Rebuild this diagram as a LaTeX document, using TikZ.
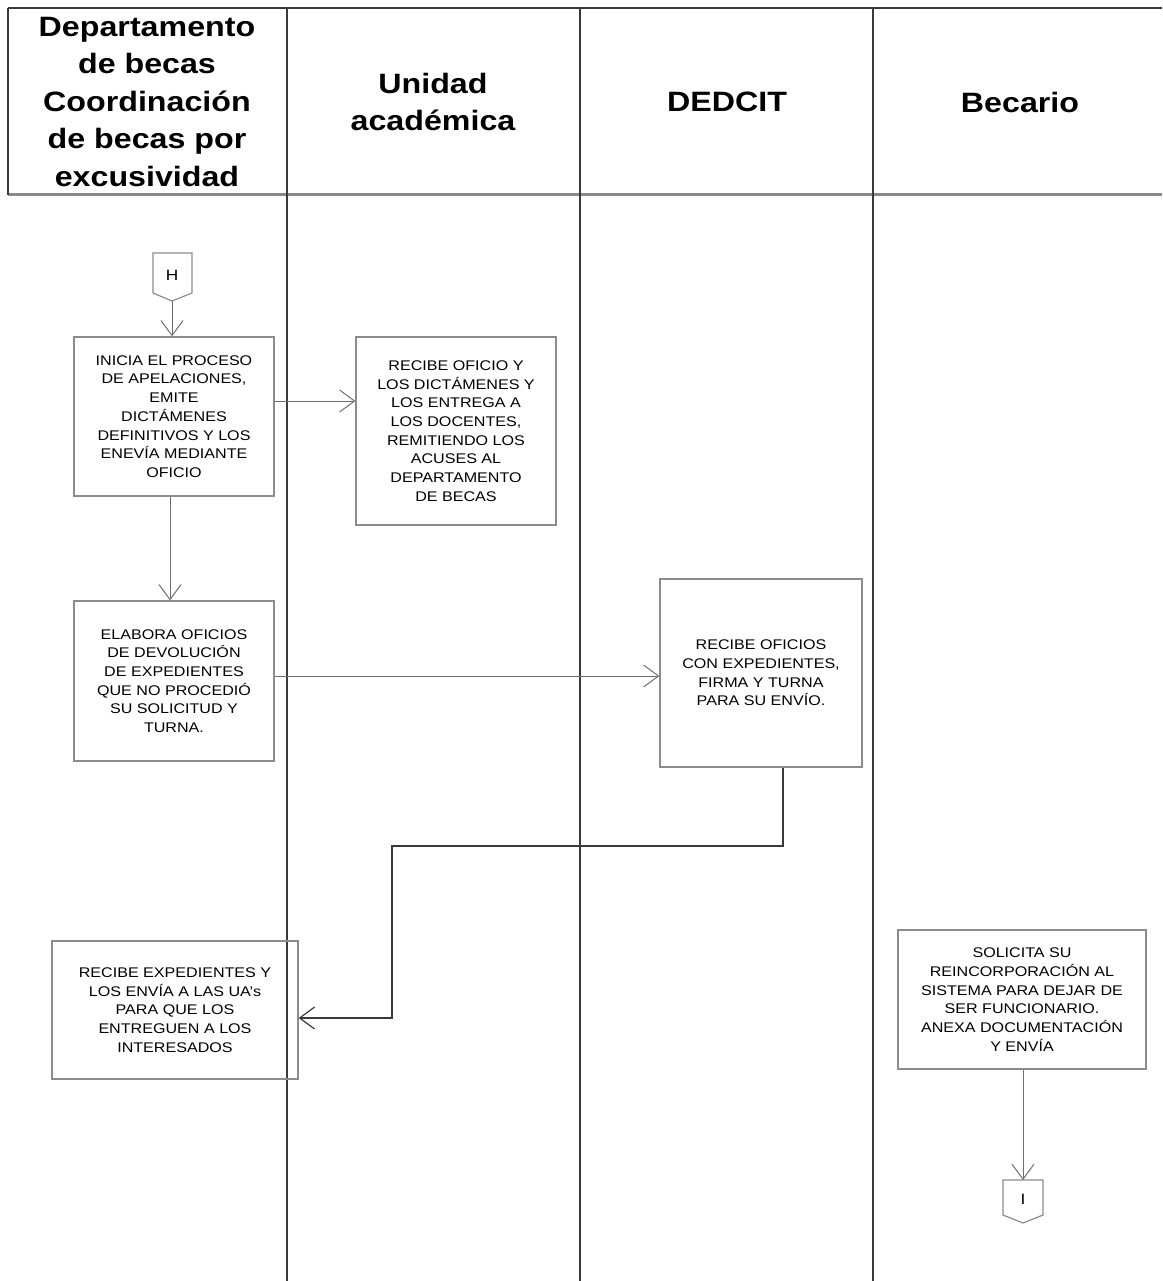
\documentclass[tikz,border=0pt]{standalone}
\usepackage{fontspec}
\setmainfont{Liberation Sans}[FakeStretch=1.15]
\usetikzlibrary{arrows.meta}
\definecolor{lane}{HTML}{3A3A3A}
\definecolor{boxc}{HTML}{8C8C8C}
\definecolor{arr}{HTML}{6E6E6E}
\begin{document}
\begin{tikzpicture}[x=1pt,y=-1pt,
  lanel/.style={draw=lane,line width=1.4pt},
  headtxt/.style={align=center,font=\fontsize{28}{37.5}\selectfont\bfseries},
  stepbox/.style={draw=boxc,line width=1.2pt,align=center,inner sep=0pt,
     font=\fontsize{14}{18.7}\selectfont},
  conn/.style={draw=arr,line width=1pt,-{Straight Barb[length=15pt,width=22pt]}},
  connd/.style={draw=lane,line width=1.2pt,-{Straight Barb[length=15pt,width=22pt]}},
  offp/.style={draw=boxc,line width=1.2pt}]
\useasboundingbox (0,0) rectangle (1162,1281);
% swimlane frame
\draw[lanel] (8,8) -- (1162,8);
\draw[draw=lane!60,line width=3pt] (8,195) -- (1162,195);
\draw[lanel] (8,8) -- (8,195);
\draw[lanel] (287,8) -- (287,1281);
\draw[lanel] (580,8) -- (580,1281);
\draw[lanel] (873,8) -- (873,1281);
% headers
\node[headtxt] (h1) at (147,102) {Departamento\\de becas\\Coordinación\\de becas por\\excusividad};
\node[headtxt] (h2) at (433,102) {Unidad\\académica};
\node[headtxt] (h3) at (727,102) {DEDCIT};
\node[headtxt] (h4) at (1020,102) {Becario};
% off-page connector H
\draw[offp] (153,253) -- (192,253) -- (192,293) -- (172,301) -- (153,293) -- cycle;
\node[font=\fontsize{15}{16}\selectfont] (H) at (172,275) {H};
\coordinate (Hb) at (172,301);
% boxes
\node[stepbox,minimum width=200pt,minimum height=159pt] (b1) at (174,416.5)
 {INICIA EL PROCESO\\DE APELACIONES,\\EMITE\\DICTÁMENES\\DEFINITIVOS Y LOS\\ENEVÍA MEDIANTE\\OFICIO};
\node[stepbox,minimum width=200pt,minimum height=188pt] (b2) at (456,431)
 {RECIBE OFICIO Y\\LOS DICTÁMENES Y\\LOS ENTREGA A\\LOS DOCENTES,\\REMITIENDO LOS\\ACUSES AL\\DEPARTAMENTO\\DE BECAS};
\node[stepbox,minimum width=200pt,minimum height=160pt] (b3) at (174,681)
 {ELABORA OFICIOS\\DE DEVOLUCIÓN\\DE EXPEDIENTES\\QUE NO PROCEDIÓ\\SU SOLICITUD Y\\TURNA.};
\node[stepbox,minimum width=202pt,minimum height=188pt] (b4) at (761,673)
 {RECIBE OFICIOS\\CON EXPEDIENTES,\\FIRMA Y TURNA\\PARA SU ENVÍO.};
\node[stepbox,minimum width=246pt,minimum height=138pt] (b5) at (175,1010)
 {RECIBE EXPEDIENTES Y\\LOS ENVÍA A LAS UA's\\PARA QUE LOS\\ENTREGUEN A LOS\\INTERESADOS};
\node[stepbox,minimum width=248pt,minimum height=139pt] (b6) at (1022,999.5)
 {SOLICITA SU\\REINCORPORACIÓN AL\\SISTEMA PARA DEJAR DE\\SER FUNCIONARIO.\\ANEXA DOCUMENTACIÓN\\Y ENVÍA};
% off-page connector I
\draw[offp] (1003,1180) -- (1043,1180) -- (1043,1215) -- (1023,1223) -- (1003,1215) -- cycle;
\node[font=\fontsize{15}{16}\selectfont] (I) at (1023,1199) {I};
\coordinate (It) at (1023,1180);
% connectors
\draw[conn] (Hb) -- (Hb |- b1.north);
\draw[conn] (b1.east |- 0,401) -- (b2.west |- 0,401);
\draw[conn] (b1.south -| 170,0) -- (b3.north -| 170,0);
\draw[conn] (b3.east |- 0,676) -- (b4.west |- 0,676);
\draw[connd] (b4.south -| 783,0) -- (783,846) -- (392,846) -- (392,1018) -- (b5.east |- 0,1018);
\draw[conn] (b6.south -| It) -- (It);
\end{tikzpicture}
\end{document}
